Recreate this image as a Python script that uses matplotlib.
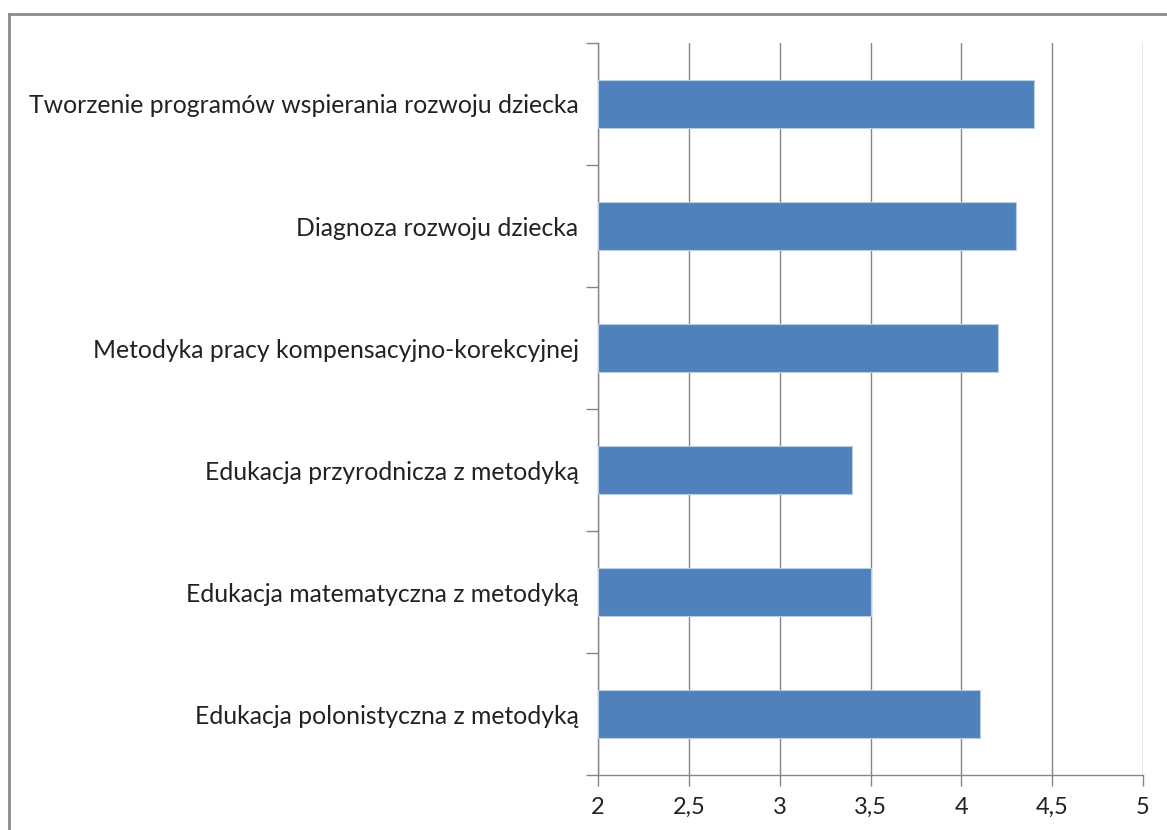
import matplotlib
matplotlib.use('Agg')
import matplotlib.pyplot as plt
import numpy as np
from matplotlib.lines import Line2D

# dane
categories = [
    'Edukacja polonistyczna z metodyką',
    'Edukacja matematyczna z metodyką',
    'Edukacja przyrodnicza z metodyką',
    'Metodyka pracy kompensacyjno-korekcyjnej',
    'Diagnoza rozwoju dziecka',
    'Tworzenie programów wspierania rozwoju dziecka',
]
values = [4.1, 3.5, 3.4, 4.2, 4.3, 4.4]
x_ticks = [2, 2.5, 3, 3.5, 4, 4.5, 5]
x_ticklabels = ['2', '2,5', '3', '3,5', '4', '4,5', '5']

plt.rcParams['font.family'] = ['Lato', 'DejaVu Sans']

fig = plt.figure(figsize=(11.67, 8.30), dpi=100)
ax = fig.add_axes([598 / 1167, 1 - 775 / 830, (1143 - 598) / 1167, (775 - 43) / 830])

grey = '#868686'
base = x_ticks[0]
pos = np.arange(len(categories))
ax.barh(pos, [v - base for v in values], left=base, height=0.4,
        color='#4F81BD', edgecolor='#B9CDE5', linewidth=0.8, zorder=3)

ax.set_xlim(x_ticks[0], x_ticks[-1])
ax.set_ylim(-0.5, len(categories) - 0.5)
ax.set_xticks(x_ticks)
ax.set_xticklabels(x_ticklabels, fontsize=17, color='#222222')
ax.set_yticks(pos)
ax.set_yticklabels(categories, fontsize=17.8, color='#222222')
ax.set_yticks(np.arange(-0.5, len(categories)), minor=True)

ax.tick_params(axis='y', which='major', length=0, pad=14)
ax.tick_params(axis='y', which='minor', length=9, color=grey, width=1)
ax.tick_params(axis='x', which='major', length=8, color=grey, width=1, pad=8)

ax.xaxis.grid(True, color=grey, linewidth=1)
ax.set_axisbelow(True)
for s in ['top', 'right']:
    ax.spines[s].set_visible(False)
for s in ['left', 'bottom']:
    ax.spines[s].set_color(grey)
    ax.spines[s].set_linewidth(1)

# ramka wykresu
fx, fy = 8.5 / 1167, 1 - 14 / 830
fig.add_artist(Line2D([fx, fx], [0, fy], color='#8c8c8c', linewidth=2, transform=fig.transFigure))
fig.add_artist(Line2D([fx, 1], [fy, fy], color='#8c8c8c', linewidth=2, transform=fig.transFigure))

plt.savefig('out.png', dpi=100)
